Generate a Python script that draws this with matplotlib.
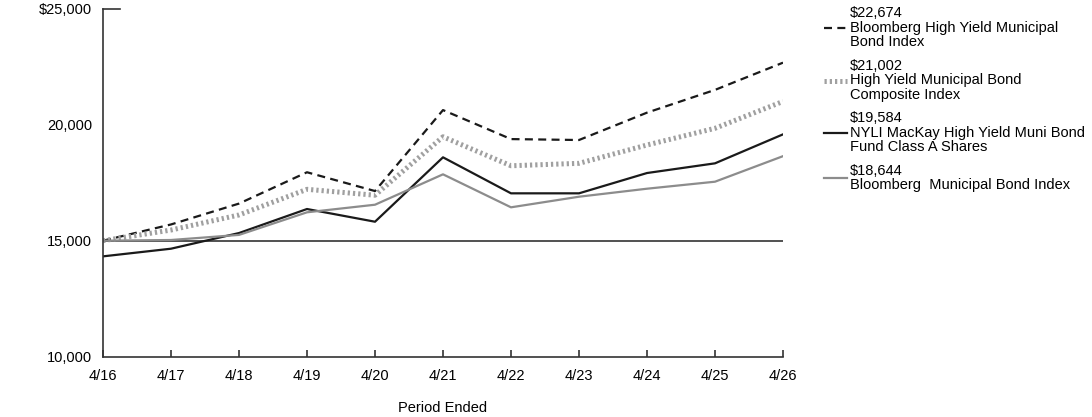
import matplotlib
matplotlib.use("Agg")
import matplotlib.pyplot as plt

plt.rcParams['font.family'] = ['Liberation Sans', 'DejaVu Sans']

years = ["4/16", "4/17", "4/18", "4/19", "4/20", "4/21", "4/22", "4/23", "4/24", "4/25", "4/26"]
bbg_hy = [15000, 15700, 16600, 17950, 17140, 20630, 19380, 19340, 20520, 21500, 22674]
hy_composite = [15000, 15460, 16110, 17215, 16960, 19480, 18230, 18335, 19125, 19845, 21002]
fund_a = [14325, 14655, 15330, 16366, 15818, 18594, 17042, 17042, 17917, 18335, 19584]
bbg_muni = [15000, 15030, 15250, 16224, 16551, 17861, 16439, 16896, 17241, 17543, 18644]

names = ["Bloomberg High Yield Municipal\nBond Index",
         "High Yield Municipal Bond\nComposite Index",
         "NYLI MacKay High Yield Muni Bond\nFund Class A Shares",
         "Bloomberg  Municipal Bond Index"]

yticks = [10000, 15000, 20000, 25000]
ytick_labels = ["10,000", "15,000", "20,000", "$25,000"]

FS = 10.5

fig = plt.figure(figsize=(10.92, 4.17), dpi=100)
ax = fig.add_axes([103/1092, 1-356.7/417, 680/1092, (356.7-8.7)/417])

x = list(range(len(years)))
h1, = ax.plot(x, bbg_hy, color='#1a1a1a', lw=1.6, linestyle=(0, (3.6, 2.4)))
h2, = ax.plot(x, hy_composite, color='#a0a0a0', lw=3.6, linestyle=(0, (0.45, 0.6)))
h3, = ax.plot(x, fund_a, color='#1a1a1a', lw=1.6)
h4, = ax.plot(x, bbg_muni, color='#8c8c8c', lw=1.6)

ax.axhline(15000, color='#333333', lw=1.2, zorder=0)
ax.axhline(25000, xmin=0, xmax=17/680, color='#333333', lw=1.2, clip_on=False)

ax.set_xlim(0, len(years)-1)
ax.set_ylim(10000, 25000)
ax.set_xticks(x)
ax.set_xticklabels(years, fontsize=FS)
ax.set_yticks(yticks)
ax.set_yticklabels(ytick_labels, fontsize=FS)
ax.tick_params(axis='x', direction='in', length=5, width=1.2, color='#333333', pad=9)
ax.tick_params(axis='y', length=0, pad=8)
for s in ['top', 'right']:
    ax.spines[s].set_visible(False)
for s in ['left', 'bottom']:
    ax.spines[s].set_color('#333333')
    ax.spines[s].set_linewidth(1.2)

ax.set_xlabel("Period Ended", fontsize=FS, labelpad=13)

series = [bbg_hy, hy_composite, fund_a, bbg_muni]
labels = [f"${s[-1]:,}\n{n}" for s, n in zip(series, names)]
leg = fig.legend([h1, h2, h3, h4], labels, loc='upper left',
                 bbox_to_anchor=(824/1092, 1-6/417), bbox_transform=fig.transFigure,
                 frameon=False, fontsize=FS, handlelength=1.6, handletextpad=0.2,
                 borderpad=0, borderaxespad=0, labelspacing=0.65)
for t in leg.get_texts():
    t.set_linespacing(1.05)

fig.savefig("out.png", dpi=100)
